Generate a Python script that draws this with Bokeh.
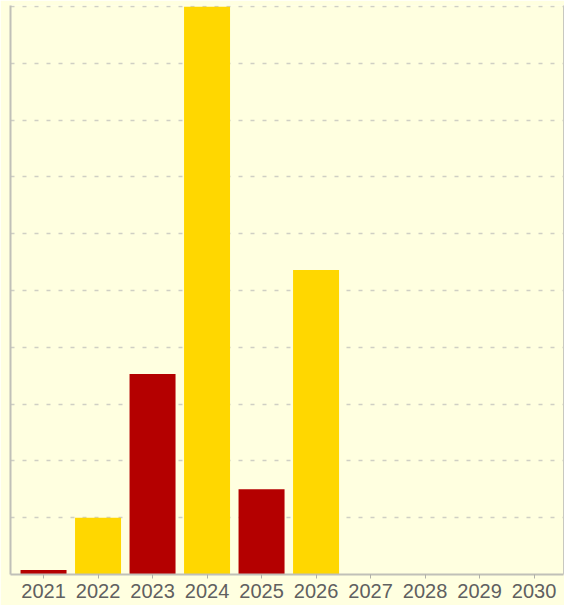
from bokeh.plotting import figure
from bokeh.models import Range1d, FixedTicker, LinearAxis
from bokeh.embed import file_html
from bokeh.resources import INLINE

years = [2021, 2022, 2023, 2024, 2025, 2026, 2027, 2028, 2029, 2030]
values = [0.08, 1.0, 3.53, 10.0, 1.5, 5.36, 0.01, 0.0, 0.0, 0.0]
colors = ["#b40000", "#ffd700"] * 5
grid_ticks = [0, 1, 2, 3, 4, 5, 6, 7, 8, 9, 10]

BG = "#ffffe0"

p = figure(width=564, height=605, output_backend="svg", toolbar_location=None,
           x_range=Range1d(2020.394, 2030.54), y_range=Range1d(0, 10.02),
           min_border_left=10, min_border_right=1, min_border_top=5, min_border_bottom=31,
           background_fill_color=BG, border_fill_color=BG, outline_line_color=None)

p.vbar(x=years, top=values, width=0.844, fill_color=colors, line_color=None)

p.xaxis.ticker = FixedTicker(ticks=years)
p.xaxis.major_label_text_font = "Liberation Sans"
p.xaxis.major_label_text_font_size = "20px"
p.xaxis.major_label_text_color = "#606060"
p.xaxis.major_label_standoff = 5
p.xaxis.axis_line_color = "#c0c0b8"
p.xaxis.axis_line_width = 2
p.xaxis.major_tick_in = 0
p.xaxis.major_tick_out = 4
p.xaxis.major_tick_line_color = "#b0b0a8"
p.xaxis.minor_tick_line_color = None

p.yaxis.ticker = FixedTicker(ticks=[])
p.yaxis.major_tick_line_color = None
p.yaxis.minor_tick_line_color = None
p.yaxis.major_label_standoff = 0
p.yaxis.axis_line_color = "#c0c0b8"
p.yaxis.axis_line_width = 2

right = LinearAxis(ticker=FixedTicker(ticks=[]),
                   major_tick_line_color=None, minor_tick_line_color=None,
                   major_label_standoff=0, axis_line_color="#c8c8c0", axis_line_width=1)
p.add_layout(right, "right")

p.xgrid.grid_line_color = None
p.ygrid.ticker = FixedTicker(ticks=grid_ticks)
p.ygrid.grid_line_color = "#cfcfc4"
p.ygrid.grid_line_width = 1.5
p.ygrid.grid_line_dash = "4 8"

html = file_html(p, INLINE)
html = html.replace("<body>", '<body style="background:%s">' % BG, 1)
open("out.html", "w").write(html)
